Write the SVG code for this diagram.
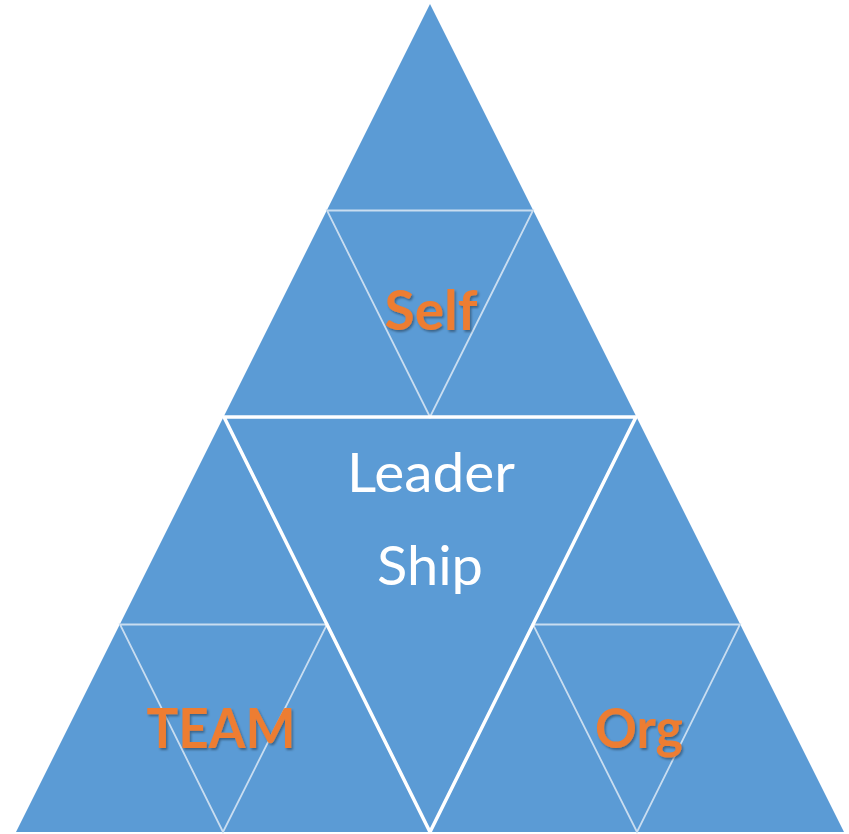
<svg xmlns="http://www.w3.org/2000/svg" width="849" height="834" viewBox="0 0 849 834">
<defs>
<style>
.tri{fill:#5B9BD5;}
.thick{fill:none;stroke:#FFFFFF;stroke-width:3.5;stroke-linejoin:miter;}
.thin{fill:none;stroke:#C9DDF0;stroke-width:1.8;}
.lbl{font-family:"Lato","Liberation Sans",sans-serif;font-weight:bold;fill:#ED7D31;font-size:56px;text-anchor:middle;filter:url(#sh);}
.main{font-family:"Lato","Liberation Sans",sans-serif;fill:#FFFFFF;font-size:54px;text-anchor:middle;}
</style>
<filter id="sh" x="-10%" y="-10%" width="130%" height="140%">
<feDropShadow dx="1.5" dy="2" stdDeviation="1.2" flood-color="#000000" flood-opacity="0.35"/>
</filter>
</defs>
<g id="pyramid">
<polygon class="tri" points="430,4 16,832 844,832"/>
</g>
<g id="connectors">
<polygon class="thin" points="327,210.5 533,210.5 430,417"/>
<polygon class="thin" points="120,624.5 327,624.5 223,832"/>
<polygon class="thin" points="533,624.5 740,624.5 637,832"/>
<polygon class="thick" points="224,417 636,417 430,832"/>
</g>
<g id="self"><text class="lbl" x="431" y="330" textLength="93" lengthAdjust="spacingAndGlyphs">Self</text></g>
<g id="leadership">
<text class="main" x="431" y="492" textLength="168" lengthAdjust="spacingAndGlyphs">Leader</text>
<text class="main" x="430" y="585" textLength="106" lengthAdjust="spacingAndGlyphs">Ship</text>
</g>
<g id="team"><text class="lbl" x="221" y="748" textLength="149" lengthAdjust="spacingAndGlyphs">TEAM</text></g>
<g id="org"><text class="lbl" x="639" y="748" textLength="88" lengthAdjust="spacingAndGlyphs">Org</text></g>
</svg>
